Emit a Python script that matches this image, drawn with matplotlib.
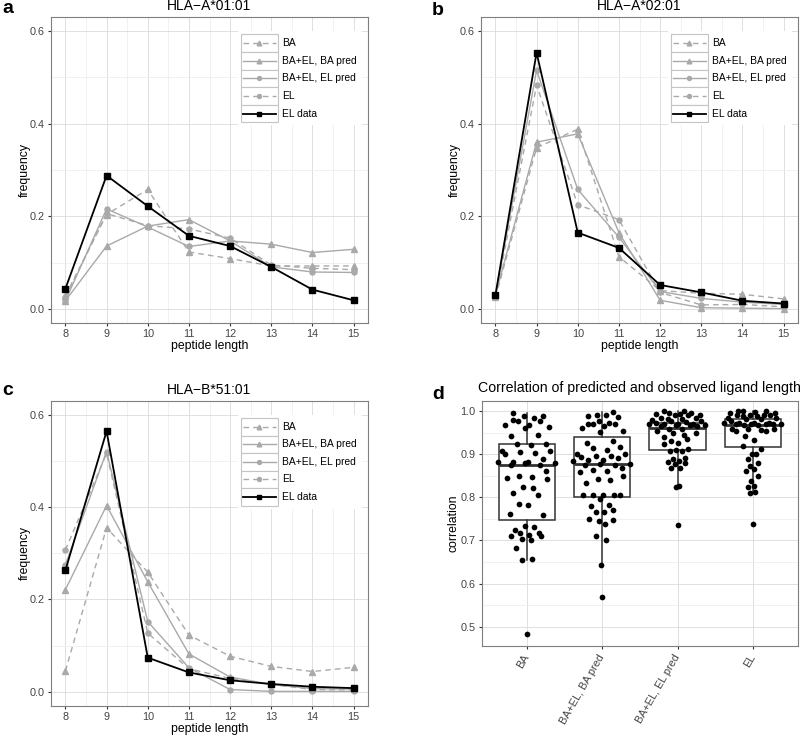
import matplotlib
matplotlib.use('Agg')
import matplotlib.pyplot as plt
import numpy as np
from matplotlib.patches import Rectangle
from matplotlib.lines import Line2D

plt.rcParams['font.family'] = ['Liberation Sans', 'DejaVu Sans']

# peptide length distributions (panels a-c)
lengths = [8, 9, 10, 11, 12, 13, 14, 15]
series_names = ['BA', 'BA+EL, BA pred', 'BA+EL, EL pred', 'EL', 'EL data']

a0101_ba = [0.029, 0.204, 0.258, 0.123, 0.109, 0.093, 0.093, 0.093]
a0101_baen_ba = [0.018, 0.136, 0.179, 0.193, 0.147, 0.140, 0.122, 0.129]
a0101_baen_el = [0.018, 0.216, 0.177, 0.135, 0.147, 0.091, 0.080, 0.079]
a0101_el = [0.025, 0.206, 0.180, 0.173, 0.153, 0.095, 0.088, 0.085]
a0101_data = [0.044, 0.288, 0.222, 0.158, 0.136, 0.091, 0.042, 0.019]

a0201_ba = [0.025, 0.348, 0.388, 0.113, 0.040, 0.034, 0.032, 0.022]
a0201_baen_ba = [0.030, 0.360, 0.378, 0.165, 0.019, 0.003, 0.002, 0.001]
a0201_baen_el = [0.030, 0.515, 0.258, 0.155, 0.038, 0.023, 0.015, 0.010]
a0201_el = [0.025, 0.483, 0.225, 0.193, 0.036, 0.009, 0.010, 0.005]
a0201_data = [0.030, 0.553, 0.165, 0.132, 0.052, 0.036, 0.018, 0.012]

b5101_ba = [0.045, 0.355, 0.259, 0.123, 0.077, 0.055, 0.044, 0.053]
b5101_baen_ba = [0.221, 0.403, 0.238, 0.082, 0.032, 0.016, 0.007, 0.006]
b5101_baen_el = [0.275, 0.520, 0.152, 0.052, 0.005, 0.001, 0.001, 0.001]
b5101_el = [0.307, 0.516, 0.127, 0.050, 0.029, 0.016, 0.005, 0.004]
b5101_data = [0.263, 0.564, 0.074, 0.042, 0.025, 0.017, 0.011, 0.008]

# correlation per allele (panel d)
model_names = ['BA', 'BA+EL, BA pred', 'BA+EL, EL pred', 'EL']
corr_ba = [0.996, 0.988, 0.988, 0.985, 0.979, 0.978, 0.977, 0.968, 0.967, 0.964,
           0.961, 0.944, 0.943, 0.924, 0.923, 0.922, 0.907, 0.907, 0.906, 0.902,
           0.900, 0.888, 0.883, 0.883, 0.882, 0.880, 0.879, 0.876, 0.874, 0.861,
           0.850, 0.846, 0.845, 0.842, 0.823, 0.821, 0.809, 0.805, 0.785, 0.782,
           0.761, 0.760, 0.733, 0.731, 0.724, 0.718, 0.718, 0.712, 0.711, 0.710,
           0.703, 0.701, 0.683, 0.657, 0.655, 0.482]
corr_baen_ba = [0.998, 0.992, 0.991, 0.988, 0.987, 0.976, 0.973, 0.971, 0.969, 0.969,
                0.965, 0.961, 0.953, 0.951, 0.931, 0.927, 0.917, 0.914, 0.910, 0.901,
                0.900, 0.896, 0.895, 0.894, 0.891, 0.887, 0.886, 0.884, 0.878, 0.877,
                0.876, 0.876, 0.867, 0.863, 0.860, 0.858, 0.850, 0.843, 0.840, 0.833,
                0.806, 0.806, 0.806, 0.806, 0.806, 0.797, 0.782, 0.780, 0.771, 0.766,
                0.765, 0.749, 0.748, 0.744, 0.738, 0.711, 0.701, 0.644, 0.568]
corr_baen_el = [0.999, 0.999, 0.996, 0.996, 0.994, 0.993, 0.992, 0.991, 0.990, 0.985,
                0.985, 0.982, 0.981, 0.979, 0.977, 0.977, 0.975, 0.973, 0.971, 0.969,
                0.969, 0.969, 0.967, 0.967, 0.967, 0.965, 0.965, 0.958, 0.958, 0.954,
                0.950, 0.950, 0.944, 0.941, 0.936, 0.931, 0.927, 0.924, 0.911, 0.910,
                0.907, 0.907, 0.892, 0.888, 0.884, 0.882, 0.879, 0.877, 0.867, 0.867,
                0.826, 0.825, 0.735]
corr_el = [1.000, 1.000, 0.999, 0.998, 0.996, 0.996, 0.992, 0.992, 0.992, 0.992,
           0.988, 0.988, 0.985, 0.985, 0.981, 0.981, 0.977, 0.973, 0.973, 0.973,
           0.973, 0.971, 0.971, 0.969, 0.969, 0.969, 0.967, 0.967, 0.959, 0.958,
           0.958, 0.956, 0.954, 0.954, 0.942, 0.934, 0.919, 0.911, 0.900, 0.900,
           0.888, 0.880, 0.873, 0.865, 0.861, 0.850, 0.838, 0.826, 0.823, 0.812,
           0.811, 0.739]

# boxplot summaries
box_whislo = [0.655, 0.644, 0.825, 0.811]
box_q1 = [0.747, 0.801, 0.909, 0.917]
box_med = [0.875, 0.877, 0.960, 0.968]
box_q3 = [0.923, 0.941, 0.973, 0.981]
box_whishi = [0.996, 0.998, 0.999, 1.000]

GRAY = '#a9a9a9'
STYLES = {
    'BA': dict(color=GRAY, ls=(0, (4, 3)), marker='^', ms=4.2, lw=1.0),
    'BA+EL, BA pred': dict(color=GRAY, ls='-', marker='^', ms=4.2, lw=1.0),
    'BA+EL, EL pred': dict(color=GRAY, ls='-', marker='o', ms=3.6, lw=1.0),
    'EL': dict(color=GRAY, ls=(0, (4, 3)), marker='o', ms=3.6, lw=1.0),
    'EL data': dict(color='black', ls='-', marker='s', ms=4.0, lw=1.3),
}
TXT = '#444444'


def style_axes(ax):
    for sp in ax.spines.values():
        sp.set_color('#7f7f7f')
        sp.set_linewidth(0.8)
    ax.tick_params(which='major', length=2.5, width=0.8, color='#333333',
                   labelcolor=TXT, labelsize=7.8, pad=2)
    ax.tick_params(which='minor', length=0)
    ax.grid(which='major', color='#dadada', lw=0.6)
    ax.grid(which='minor', color='#ececec', lw=0.5)
    ax.set_axisbelow(True)


def draw_legend(ax):
    x0, x1, top, rh = 0.598, 0.717, 0.943, 0.0575
    n = len(series_names)
    ax.add_patch(Rectangle((x0 - 0.008, top - n * rh - 0.01), 0.39, n * rh + 0.02,
                           transform=ax.transAxes, facecolor='white', edgecolor='none', zorder=5))
    for i, name in enumerate(series_names):
        st = STYLES[name]
        yb = top - (i + 1) * rh
        ax.add_patch(Rectangle((x0, yb), x1 - x0, rh, transform=ax.transAxes,
                               facecolor='white', edgecolor='#c4c4c4', lw=0.8, zorder=6))
        yc = yb + rh / 2
        ax.add_line(Line2D([x0 + 0.008, x1 - 0.008], [yc, yc], transform=ax.transAxes,
                           color=st['color'], ls=st['ls'], lw=st['lw'], zorder=7))
        ax.add_line(Line2D([(x0 + x1) / 2], [yc], transform=ax.transAxes, color=st['color'],
                           marker=st['marker'], ms=st['ms'] * 0.8, ls='none', zorder=8))
        ax.text(x1 + 0.011, yc, name, transform=ax.transAxes, fontsize=7.4, color='black',
                va='center', ha='left', zorder=8)


def length_panel(ax, title, series):
    for name, vals in zip(series_names, series):
        st = STYLES[name]
        ax.plot(lengths, vals, color=st['color'], ls=st['ls'], lw=st['lw'],
                marker=st['marker'], ms=st['ms'], zorder=4 if name == 'EL data' else 3)
    ax.set_xlim(7.65, 15.35)
    ax.set_ylim(-0.03, 0.63)
    ax.set_xticks(lengths)
    ax.set_xticks(np.arange(8.5, 15, 1), minor=True)
    ax.set_yticks([0, 0.2, 0.4, 0.6])
    ax.set_yticklabels(['0.0', '0.2', '0.4', '0.6'])
    ax.set_yticks([0.1, 0.3, 0.5], minor=True)
    style_axes(ax)
    ax.set_title(title, fontsize=10, pad=5)
    ax.set_xlabel('peptide length', fontsize=8.8)
    ax.set_ylabel('frequency', fontsize=8.8)
    ax.xaxis.set_label_coords(0.5, -0.056)
    ax.yaxis.set_label_coords(-0.063, 0.5)
    ax.xaxis.label.set_va('top')
    draw_legend(ax)


def vdc(n, base=2):
    out = []
    for i in range(1, n + 1):
        q, denom, x = i, 1, 0.0
        while q:
            denom *= base
            q, r = divmod(q, base)
            x += r / denom
        out.append(x)
    return np.array(out)


def quasi_offsets(vals, width=0.4):
    # deterministic quasirandom spread, scaled by local density
    v = np.asarray(vals, dtype=float)
    n = len(v)
    iqr = np.subtract(*np.percentile(v, [75, 25]))
    bw = 0.9 * min(v.std(ddof=1), iqr / 1.34) * n ** -0.2
    dens = np.exp(-0.5 * ((v[:, None] - v[None, :]) / bw) ** 2).sum(1)
    dens /= dens.max()
    order = np.argsort(v, kind='stable')
    offs = np.empty(n)
    offs[order] = (vdc(n) - 0.5) * 2 * width * dens[order]
    return offs


fig = plt.figure(figsize=(8, 7.36), dpi=100)
W, H = 800, 736


def add_ax(l, t, w, h):
    return fig.add_axes([l / W, 1 - (t + h) / H, w / W, h / H])


ax_a = add_ax(51, 17, 317, 306)
ax_b = add_ax(481, 17, 317, 306)
ax_c = add_ax(51, 400.7, 317, 305)
ax_d = add_ax(481.7, 400.7, 316.3, 245)

length_panel(ax_a, 'HLA\u2212A*01:01', [a0101_ba, a0101_baen_ba, a0101_baen_el, a0101_el, a0101_data])
length_panel(ax_b, 'HLA\u2212A*02:01', [a0201_ba, a0201_baen_ba, a0201_baen_el, a0201_el, a0201_data])
length_panel(ax_c, 'HLA\u2212B*51:01', [b5101_ba, b5101_baen_ba, b5101_baen_el, b5101_el, b5101_data])

# panel d
stats = []
for i in range(len(model_names)):
    stats.append(dict(med=box_med[i], q1=box_q1[i], q3=box_q3[i],
                      whislo=box_whislo[i], whishi=box_whishi[i], fliers=[]))
pos = np.arange(1, len(model_names) + 1)
ax_d.bxp(stats, positions=pos, widths=0.75, showcaps=False, showfliers=False,
         patch_artist=True,
         boxprops=dict(facecolor='white', edgecolor='#333333', lw=1.1),
         whiskerprops=dict(color='#333333', lw=1.1),
         medianprops=dict(color='#333333', lw=2.0))
for p, vals in zip(pos, [corr_ba, corr_baen_ba, corr_baen_el, corr_el]):
    ax_d.scatter(p + quasi_offsets(vals), vals, s=17, color='black', zorder=4, lw=0)
ax_d.set_xlim(0.4, 4.6)
ax_d.set_ylim(0.456, 1.024)
ax_d.set_xticks(pos)
ax_d.set_xticklabels(model_names, rotation=60, ha='right', va='center',
                     rotation_mode='anchor')
ax_d.set_yticks([0.5, 0.6, 0.7, 0.8, 0.9, 1.0])
ax_d.set_yticklabels(['0.5', '0.6', '0.7', '0.8', '0.9', '1.0'])
ax_d.set_yticks([0.55, 0.65, 0.75, 0.85, 0.95], minor=True)
style_axes(ax_d)
ax_d.tick_params(axis='x', pad=4)
ax_d.set_title('Correlation of predicted and observed ligand length', fontsize=10.2, pad=6)
ax_d.set_ylabel('correlation', fontsize=8.8)
ax_d.yaxis.set_label_coords(-0.069, 0.5)

# panel letters
for letter, x, y in [('a', 2, 13), ('b', 432, 15), ('c', 2, 395), ('d', 432, 399)]:
    fig.text(x / W, 1 - y / H, letter, fontsize=14, fontweight='bold', va='baseline', ha='left')

fig.savefig('out.png', dpi=100)
